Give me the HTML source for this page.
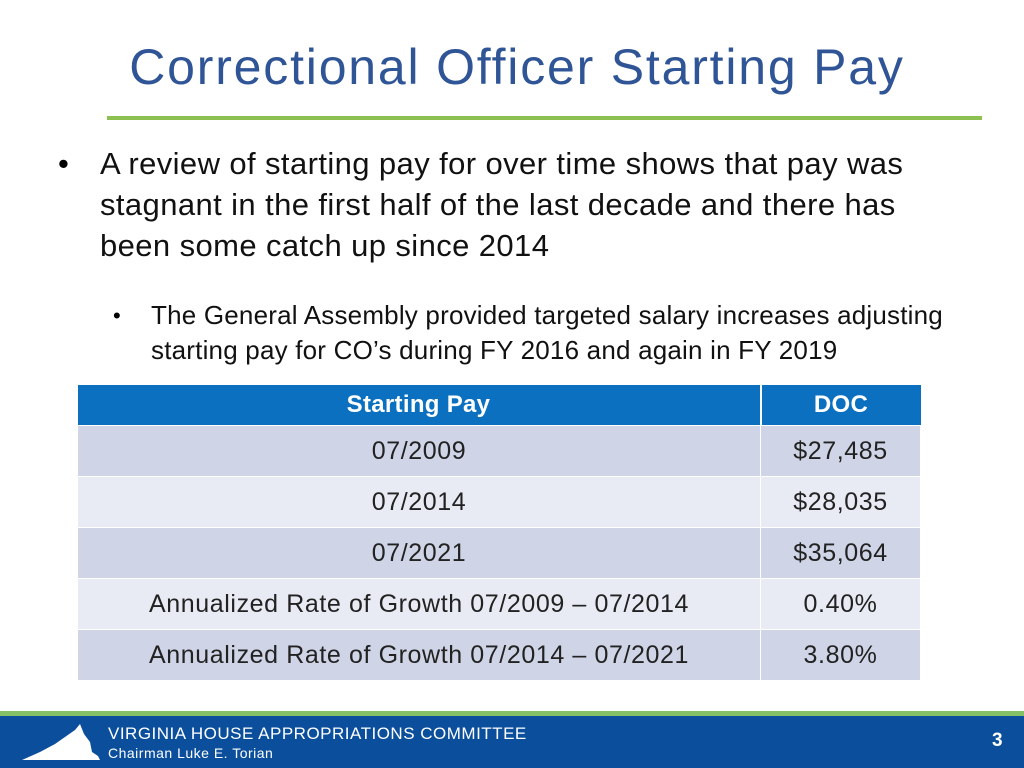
<!DOCTYPE html>
<html><head><meta charset="utf-8"><style>
body{margin:0;width:1024px;height:768px;background:#fff;position:relative;overflow:hidden;font-family:"Liberation Sans",sans-serif}
.abs{position:absolute}
#title{left:0;width:1034px;top:38px;text-align:center;font-size:50px;color:#2f5597;letter-spacing:1.8px}
#rule{left:107px;top:116px;width:875px;height:4px;background:#8cc152}
.b1{left:100px;top:143px;width:850px;font-size:31px;line-height:41px;color:#111;letter-spacing:0.4px}
.d1{left:58px;top:143px;font-size:31px;line-height:41px}
.b2{left:151px;top:298px;width:805px;font-size:26px;line-height:35px;color:#111;letter-spacing:0.2px}
.d2{left:113px;top:298px;font-size:22px;line-height:35px}
table{position:absolute;left:77px;top:385px;width:844px;border-collapse:collapse;font-size:25px;letter-spacing:0.6px;color:#222}
td{text-align:center;height:50px;padding:0;border:1.5px solid #fff}
th{background:#0b70bf;color:#fff;height:38px;font-size:24px;letter-spacing:0.3px;border-right:2px solid #fff}
tr.o td{background:#cfd5e6}
tr.e td{background:#e8ebf4}
#green{left:0;top:711px;width:1024px;height:5px;background:#86c066}
#foot{left:0;top:716px;width:1024px;height:52px;background:#0b4f9c;color:#fff}
</style></head><body>
<div id="title" class="abs">Correctional Officer Starting Pay</div>
<div id="rule" class="abs"></div>
<div class="abs d1">•</div>
<div class="abs b1">A review of starting pay for over time shows that pay was<br>stagnant in the first half of the last decade and there has<br>been some catch up since 2014</div>
<div class="abs d2">•</div>
<div class="abs b2">The General Assembly provided targeted salary increases adjusting<br>starting pay for CO’s during FY 2016 and again in FY 2019</div>
<table>
<tr><th style="width:680px">Starting Pay</th><th style="border-right:0">DOC</th></tr>
<tr class="o"><td>07/2009</td><td>$27,485</td></tr>
<tr class="e"><td>07/2014</td><td>$28,035</td></tr>
<tr class="o"><td>07/2021</td><td>$35,064</td></tr>
<tr class="e"><td>Annualized Rate of Growth 07/2009 – 07/2014</td><td>0.40%</td></tr>
<tr class="o"><td>Annualized Rate of Growth 07/2014 – 07/2021</td><td>3.80%</td></tr>
</table>
<div id="green" class="abs"></div>
<div id="foot" class="abs">
<svg class="abs" style="left:20px;top:6px" width="85" height="42"><polygon points="2,38 20,30 35,22 55,8 60,2 64,12 70,20 72,30 78,34 80,38" fill="#fff"/></svg>
<div class="abs" style="left:108px;top:8px;font-size:17px;letter-spacing:0.5px">VIRGINIA HOUSE APPROPRIATIONS COMMITTEE</div>
<div class="abs" style="left:108px;top:29px;font-size:14px;letter-spacing:0.5px">Chairman Luke E. Torian</div>
<div class="abs" style="left:992px;top:14px;font-size:19px;font-weight:bold">3</div>
</div>
</body></html>
